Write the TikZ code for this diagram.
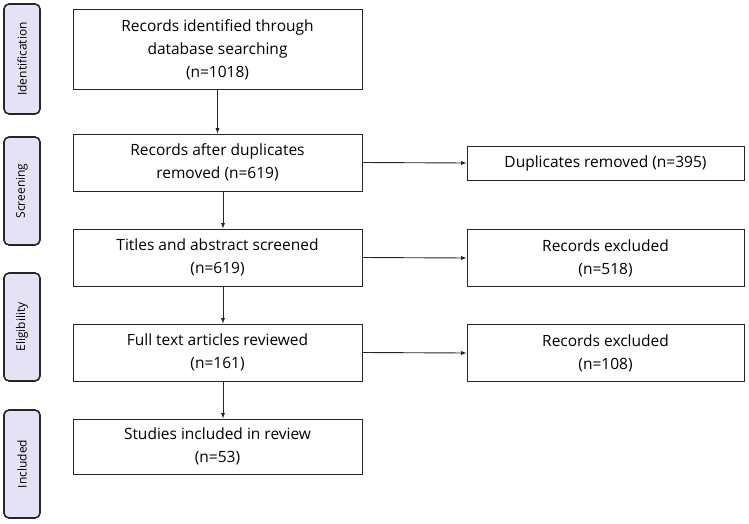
\documentclass[tikz,border=0pt]{standalone}
\usepackage{fontspec}
\setmainfont{Open Sans}
\begin{document}
\begin{tikzpicture}[x=1pt,y=-1pt,
  box/.style={draw=black!85,line width=1pt,align=center,font=\fontsize{15.5}{23}\selectfont,inner sep=0pt},
  phase/.style={draw=black!85,line width=1.6pt,fill=cyan!15!blue!10,rounded corners=5pt,inner sep=0pt,font=\fontsize{12}{14}\selectfont},
  arr/.style={-latex,line width=0.9pt,black!85}]
\useasboundingbox (0,0) rectangle (749,524);
\node[phase,minimum width=36,minimum height=110] (p1) at (22,59) {};
\node[rotate=90,font=\fontsize{12}{14}\selectfont] (t1) at (p1) {Identification};
\node[phase,minimum width=36,minimum height=108] (p2) at (22,191) {};
\node[rotate=90,font=\fontsize{12}{14}\selectfont] (t2) at (p2) {Screening};
\node[phase,minimum width=36,minimum height=108] (p3) at (22,327) {};
\node[rotate=90,font=\fontsize{12}{14}\selectfont] (t3) at (p3) {Eligibility};
\node[phase,minimum width=36,minimum height=108] (p4) at (22,464) {};
\node[rotate=90,font=\fontsize{12}{14}\selectfont] (t4) at (p4) {Included};
\node[box,minimum width=289,minimum height=80] (b1) at (217.5,50) {Records identified through\\database searching\\(n=1018)};
\node[box,minimum width=289,minimum height=57] (b2) at (217.5,162.5) {Records after duplicates\\removed (n=619)};
\node[box,minimum width=289,minimum height=57] (b3) at (217.5,257.5) {Titles and abstract screened\\(n=619)};
\node[box,minimum width=289,minimum height=57] (b4) at (217.5,352.5) {Full text articles reviewed\\(n=161)};
\node[box,minimum width=289,minimum height=55] (b5) at (217.5,446.5) {Studies included in review\\(n=53)};
\node[box,minimum width=277,minimum height=34] (r1) at (605.5,163) {Duplicates removed (n=395)};
\node[box,minimum width=277,minimum height=57] (r2) at (605.5,258) {Records excluded\\(n=518)};
\node[box,minimum width=277,minimum height=57] (r3) at (605.5,353) {Records excluded\\(n=108)};
\draw[arr] (b1) -- (b2);
\draw[arr] (b2.south -| 223,0) -- (b3.north -| 223,0);
\draw[arr] (b3.south -| 223,0) -- (b4.north -| 223,0);
\draw[arr] (b4.south -| 223,0) -- (b5.north -| 223,0);
\draw[arr] (b2.east) -- (r1.west);
\draw[arr] (b3.east) -- (r2.west);
\draw[arr] (b4.east) -- (r3.west);
\end{tikzpicture}
\end{document}
